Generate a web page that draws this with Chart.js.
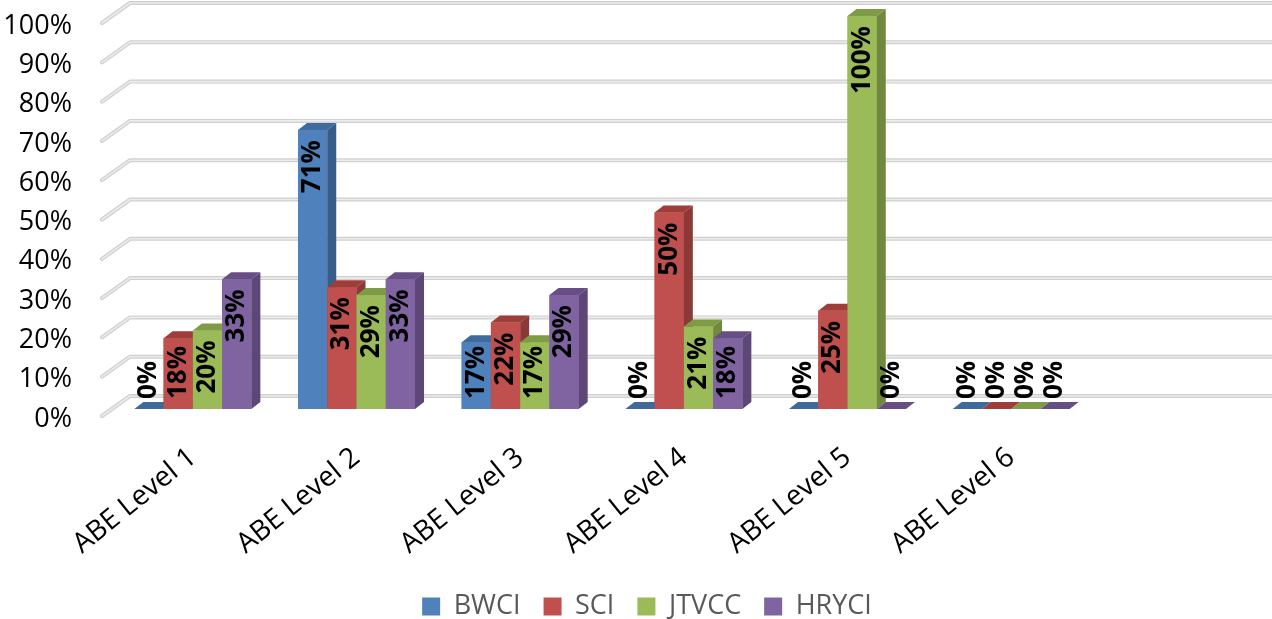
<!DOCTYPE html>
<html><head><meta charset="utf-8">
<script src="https://cdn.jsdelivr.net/npm/chart.js@4.4.0/dist/chart.umd.min.js"></script>
<style>html,body{margin:0;padding:0;background:#fff;overflow:hidden;}</style>
</head><body>
<canvas id="c" width="1272" height="619"></canvas>
<script>
// ---- data ----
const categories = ['ABE Level 1', 'ABE Level 2', 'ABE Level 3', 'ABE Level 4', 'ABE Level 5', 'ABE Level 6'];
const seriesNames = ['BWCI', 'SCI', 'JTVCC', 'HRYCI'];
const bwci  = [0, 71, 17, 0, 0, 0];
const sci   = [18, 31, 22, 50, 25, 0];
const jtvcc = [20, 29, 17, 21, 100, 0];
const hryci = [33, 33, 29, 18, 0, 0];
const yMin = 0, yMax = 100, yStep = 10;

// ---- styles ----
const frontColors = ['#4F81BD', '#C0504D', '#9BBB59', '#8064A2'];
const topColors   = ['#3E6A9E', '#9E3D3A', '#7E9B46', '#674F86'];
const sideColors  = ['#385D8A', '#8C3836', '#71893F', '#5C4776'];
const FONT = '"Open Sans", "DejaVu Sans", sans-serif';
const DX = 9, DY = 7;

const threeD = {
  id: 'threeD',
  beforeDatasetsDraw(chart) {
    const ctx = chart.ctx, y = chart.scales.y, ca = chart.chartArea;
    ctx.save();
    for (let v = yMin; v <= yMax; v += yStep) {
      const yf = y.getPixelForValue(v);
      const xb = ca.left + 19, yb = yf - 13;
      const pts = [[ca.left - 9, yf + 7], [xb, yb], [chart.width, yb]];
      [[4, '#cfcfcf'], [1.6, '#ececec']].forEach(([lw, col]) => {
        ctx.beginPath();
        ctx.moveTo(pts[0][0], pts[0][1]);
        ctx.lineTo(pts[1][0], pts[1][1]);
        ctx.lineTo(pts[2][0], pts[2][1]);
        ctx.lineWidth = lw; ctx.strokeStyle = col; ctx.lineJoin = 'round'; ctx.lineCap = 'round';
        ctx.stroke();
      });
    }
    ctx.restore();
  },
  afterDatasetsDraw(chart) {
    const ctx = chart.ctx;
    const n = chart.data.labels.length;
    ctx.save();
    for (let i = 0; i < n; i++) {
      chart.data.datasets.forEach((ds, d) => {
        const el = chart.getDatasetMeta(d).data[i];
        const l = el.x - el.width / 2, r = el.x + el.width / 2, t = el.y, b = el.base;
        ctx.fillStyle = frontColors[d];
        ctx.fillRect(l, t, r - l, b - t);
        ctx.beginPath();
        ctx.moveTo(l, t); ctx.lineTo(l + DX, t - DY); ctx.lineTo(r + DX, t - DY); ctx.lineTo(r, t); ctx.closePath();
        ctx.fillStyle = topColors[d]; ctx.fill();
        if (b - t > 0.5) {
          ctx.beginPath();
          ctx.moveTo(r, t); ctx.lineTo(r + DX, t - DY); ctx.lineTo(r + DX, b - DY); ctx.lineTo(r, b); ctx.closePath();
          ctx.fillStyle = sideColors[d]; ctx.fill();
        }
      });
    }
    ctx.font = 'bold 26px ' + FONT;
    ctx.fillStyle = '#000';
    ctx.textBaseline = 'middle';
    for (let i = 0; i < n; i++) {
      chart.data.datasets.forEach((ds, d) => {
        const el = chart.getDatasetMeta(d).data[i];
        const txt = ds.data[i] + '%';
        const len = ctx.measureText(txt).width;
        let top = el.y + 10;
        if (top + len > el.base - 10) top = el.base - 10 - len;
        ctx.save();
        ctx.translate(el.x, top);
        ctx.rotate(-Math.PI / 2);
        ctx.textAlign = 'right';
        ctx.fillText(txt, 0, 0);
        ctx.restore();
      });
    }
    ctx.restore();
  },
  beforeDraw(chart) {
    const lg = chart.legend;
    if (lg) { lg.left = 22; lg.right = chart.width; lg.top += 11; lg.bottom += 11; }
  }
};

const seriesData = [bwci, sci, jtvcc, hryci];
new Chart(document.getElementById('c'), {
  type: 'bar',
  data: {
    labels: categories,
    datasets: seriesNames.map((name, k) => ({
      label: name,
      data: seriesData[k],
      backgroundColor: frontColors[k],
      borderWidth: 0
    }))
  },
  options: {
    responsive: false,
    devicePixelRatio: 1,
    animation: false,
    layout: { padding: { left: 0, top: 16, right: 179, bottom: 0 } },
    datasets: { bar: { categoryPercentage: 0.715, barPercentage: 1.0 } },
    scales: {
      x: {
        grid: { display: false, drawTicks: false },
        border: { display: false },
        ticks: { color: '#000', font: { family: FONT, size: 28 }, minRotation: 39, maxRotation: 39, padding: 32, autoSkip: false },
        afterFit(s) { s.height = 150; s.paddingLeft = 0; s.paddingRight = 0; }
      },
      y: {
        min: yMin, max: yMax,
        grid: { display: false, drawTicks: false },
        border: { display: false },
        ticks: { stepSize: yStep, autoSkip: false, color: '#000', font: { family: FONT, size: 27 }, padding: 39, labelOffset: 10,
                 callback: v => v + '%' },
        afterFit(s) { s.width = 111; s.paddingTop = 0; s.paddingBottom = 0; }
      }
    },
    plugins: {
      legend: {
        position: 'bottom',
        labels: { boxWidth: 18, boxHeight: 18, padding: 23, color: '#595959', font: { family: FONT, size: 27 } }
      },
      tooltip: { enabled: false }
    }
  },
  plugins: [threeD]
});
</script>
</body></html>
